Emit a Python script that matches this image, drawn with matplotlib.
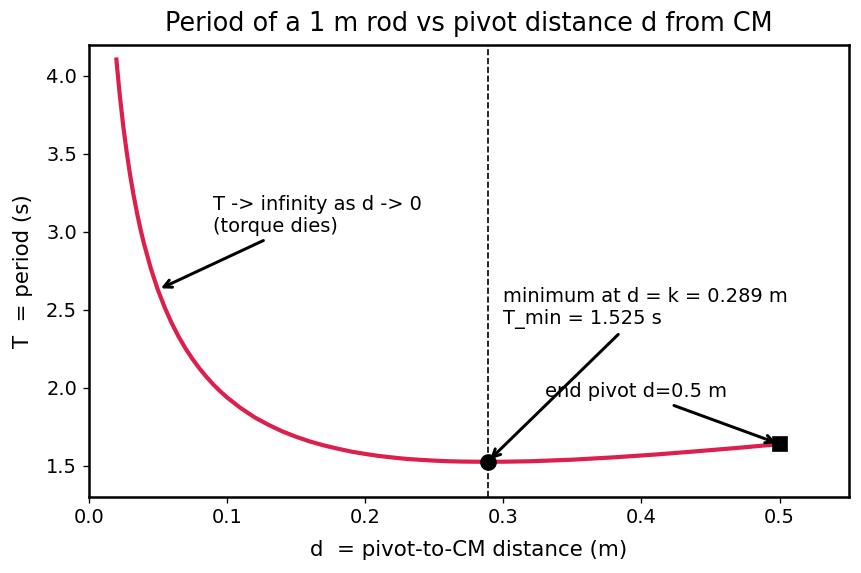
import matplotlib
matplotlib.use("Agg")
import matplotlib.pyplot as plt

plt.rcParams["font.family"] = ["DejaVu Sans"]

# pivot distance d (m) and period T (s)
d_vals = [0.02, 0.0225, 0.025, 0.0275, 0.03, 0.0325, 0.035, 0.0375, 0.04, 0.045,
          0.05, 0.055, 0.06, 0.065, 0.07, 0.075, 0.08, 0.085, 0.09, 0.095,
          0.10, 0.11, 0.12, 0.13, 0.14, 0.15, 0.16, 0.17, 0.18, 0.19,
          0.20, 0.21, 0.22, 0.23, 0.24, 0.25, 0.26, 0.27, 0.28, 0.2887,
          0.30, 0.32, 0.35, 0.38, 0.41, 0.44, 0.47, 0.50]
T_vals = [4.105, 3.872, 3.676, 3.508, 3.361, 3.232, 3.118, 3.015, 2.923, 2.763,
          2.628, 2.514, 2.415, 2.328, 2.252, 2.185, 2.125, 2.071, 2.022, 1.978,
          1.938, 1.869, 1.810, 1.762, 1.720, 1.685, 1.655, 1.630, 1.609, 1.590,
          1.575, 1.562, 1.552, 1.543, 1.537, 1.532, 1.528, 1.526, 1.525, 1.525,
          1.525, 1.528, 1.538, 1.553, 1.571, 1.592, 1.614, 1.638]

d_min, T_min = 0.2887, 1.525
d_end, T_end = 0.50, 1.638
d_arrow, T_arrow = 0.05, 2.628

fig, ax = plt.subplots(figsize=(7.18, 4.775), dpi=120)
ax.plot(d_vals, T_vals, color="#DC1F4C", lw=2.5, zorder=2)
ax.axvline(d_min, color="black", ls="--", lw=1.0, zorder=1)
ax.plot([d_min], [T_min], "o", color="black", ms=9, zorder=3)
ax.plot([d_end], [T_end], "s", color="black", ms=8, zorder=3)

arrow = dict(arrowstyle="->", color="black", lw=1.8)
fs = 11.6
ax.annotate("T -> infinity as d -> 0\n(torque dies)", xy=(d_arrow, T_arrow),
            xytext=(0.09, 3.0), fontsize=fs, arrowprops=arrow)
ax.annotate("minimum at d = k = 0.289 m\nT_min = 1.525 s", xy=(d_min, T_min),
            xytext=(0.30, 2.41), fontsize=fs, arrowprops=arrow)
ax.annotate("end pivot d=0.5 m", xy=(d_end, T_end),
            xytext=(0.33, 1.94), fontsize=fs, arrowprops=arrow)

ax.set_xlim(0, 0.55)
ax.set_ylim(1.3, 4.2)
ax.set_xlabel("d  = pivot-to-CM distance (m)", fontsize=12.8, labelpad=7.5)
ax.set_ylabel("T  = period (s)", fontsize=12.8, labelpad=8)
ax.set_title("Period of a 1 m rod vs pivot distance d from CM", fontsize=15.3, pad=8)
ax.tick_params(labelsize=11.6)
for s in ax.spines.values():
    s.set_linewidth(1.5)
fig.subplots_adjust(left=0.103, right=0.985, top=0.922, bottom=0.133)
fig.savefig("out.png", dpi=120)
